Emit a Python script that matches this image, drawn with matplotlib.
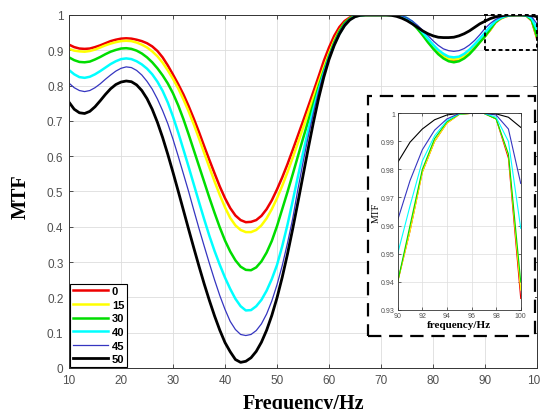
import numpy as np
import matplotlib.pyplot as plt
from matplotlib.patches import Rectangle
from matplotlib.ticker import FuncFormatter

# frequency axis, 1 Hz steps
freq = np.arange(10, 101)

mtf_0 = [
    .916, .909, .905, .904, .905, .909, .914, .920, .926, .930,
    .933, .934, .933, .930, .926, .920, .911, .898, .880, .857,
    .831, .804, .775, .742, .706, .668, .628, .589, .551, .514,
    .481, .453, .432, .419, .413, .414, .419, .431, .450, .475,
    .506, .540, .577, .617, .658, .699, .741, .783, .826, .870,
    .908, .941, .966, .983, .993, .998, 1.0, 1.0, 1.0, 1.0,
    1.0, 1.0, 1.0, 1.0, .997, .990, .979, .964, .946, .928,
    .911, .895, .883, .875, .873, .875, .882, .893, .907, .924,
    .940, .958, .979, .990, .9965, .9996, 1.0, 1.0, .998, .984,
    .934]
mtf_15 = [
    .904, .899, .897, .896, .898, .902, .908, .914, .919, .923,
    .926, .927, .926, .922, .916, .908, .897, .883, .865, .843,
    .819, .792, .761, .727, .690, .650, .609, .568, .528, .490,
    .455, .425, .404, .391, .385, .385, .391, .404, .424, .450,
    .481, .516, .554, .595, .637, .680, .723, .766, .809, .851,
    .891, .927, .956, .977, .990, .996, .999, 1.0, 1.0, 1.0,
    1.0, 1.0, 1.0, 1.0, .997, .990, .979, .964, .946, .927,
    .910, .894, .882, .875, .874, .876, .882, .893, .907, .924,
    .940, .958, .979, .990, .9965, .9996, 1.0, 1.0, .998, .985,
    .937]
mtf_30 = [
    .880, .872, .867, .866, .868, .874, .881, .889, .896, .901,
    .905, .906, .904, .899, .891, .880, .866, .849, .829, .806,
    .778, .744, .705, .662, .617, .572, .527, .482, .439, .398,
    .361, .330, .305, .287, .278, .277, .285, .302, .327, .360,
    .402, .450, .498, .548, .599, .650, .700, .749, .797, .842,
    .884, .922, .954, .977, .990, .997, .999, 1.0, 1.0, 1.0,
    1.0, 1.0, 1.0, 1.0, .997, .989, .977, .961, .943, .923,
    .905, .889, .877, .869, .866, .869, .877, .889, .905, .923,
    .940, .960, .980, .991, .997, .9997, 1.0, 1.0, .998, .9855,
    .940]
mtf_40 = [
    .844, .832, .824, .822, .825, .832, .841, .851, .861, .869,
    .875, .877, .875, .869, .860, .848, .832, .811, .785, .752,
    .712, .667, .619, .570, .520, .470, .421, .374, .331, .292,
    .256, .224, .196, .175, .163, .164, .175, .193, .219, .252,
    .292, .345, .405, .472, .541, .609, .673, .733, .787, .836,
    .879, .916, .947, .971, .987, .996, .999, 1.0, 1.0, 1.0,
    1.0, 1.0, 1.0, 1.0, .998, .991, .981, .967, .951, .933,
    .916, .901, .890, .882, .880, .882, .890, .902, .917, .933,
    .950, .967, .983, .992, .9974, .9998, 1.0, 1.0, .9986, .990,
    .959]
mtf_45 = [
    .807, .794, .786, .783, .786, .794, .805, .818, .830, .841,
    .849, .853, .851, .843, .830, .812, .790, .762, .729, .692,
    .648, .600, .550, .500, .447, .395, .345, .296, .249, .205,
    .166, .132, .109, .095, .092, .095, .106, .125, .153, .190,
    .236, .290, .353, .422, .505, .582, .655, .722, .783, .837,
    .883, .921, .952, .975, .989, .996, .999, 1.0, 1.0, 1.0,
    1.0, 1.0, 1.0, 1.0, .998, .992, .983, .971, .957, .942,
    .927, .914, .904, .899, .897, .899, .905, .915, .928, .944,
    .962, .976, .987, .994, .998, .99995, 1.0, 1.0, .9994, .9944,
    .975]
mtf_50 = [
    .753, .733, .723, .721, .727, .740, .757, .775, .791, .803,
    .810, .813, .811, .802, .786, .763, .733, .696, .653, .605,
    .554, .501, .447, .393, .340, .288, .238, .191, .147, .107,
    .072, .046, .024, .016, .019, .029, .047, .073, .107, .149,
    .199, .257, .322, .393, .468, .545, .622, .696, .764, .824,
    .874, .914, .946, .970, .986, .995, .999, 1.0, 1.0, 1.0,
    1.0, 1.0, .999, .996, .991, .984, .975, .965, .955, .947,
    .941, .937, .936, .936, .937, .941, .947, .955, .965, .975,
    .9825, .9897, .9944, .9977, .9994, 1.0, 1.0, 1.0, .9998, .9986,
    .995]

labels = ['0', '15', '30', '40', '45', '50']
series = [mtf_0, mtf_15, mtf_30, mtf_40, mtf_45, mtf_50]
colors = ['#ee0000', '#ffff00', '#00dd00', '#00ffff', '#3535c0', '#000000']
widths = [1.8, 1.8, 1.8, 1.8, 0.9, 2.0]

tick_font = 'Liberation Sans'
label_font = 'Liberation Serif'
tick_col = '#505050'

fig = plt.figure(figsize=(5.4, 4.1), dpi=100)
ax = fig.add_axes([0.1278, 0.1, 0.8667, 0.861])

for y, c, lw, lab in zip(series, colors, widths, labels):
    ax.plot(freq, y, color=c, lw=lw, label=lab)

ax.set_xlim(10, 100)
ax.set_ylim(0, 1)
ax.set_xticks(np.arange(10, 101, 10))
ax.set_yticks(np.arange(0, 1.01, 0.1))
ax.yaxis.set_major_formatter(FuncFormatter(lambda v, p: '%g' % round(v, 2)))
ax.grid(True, color='#dddddd', lw=0.6)
ax.set_axisbelow(True)
ax.tick_params(direction='in', length=3, width=0.6, top=True, right=True,
               labelsize=8.5, labelcolor=tick_col, color='#333333', pad=4)
for lbl in ax.get_xticklabels() + ax.get_yticklabels():
    lbl.set_fontfamily(tick_font)
for s in ax.spines.values():
    s.set_color('#333333')
    s.set_linewidth(0.7)

ax.set_xlabel('Frequency/Hz', fontfamily=label_font, fontweight='bold', fontsize=14.5)
ax.xaxis.set_label_coords(0.5, -0.072)
ax.set_ylabel('MTF', fontfamily=label_font, fontweight='bold', fontsize=14.5)
ax.yaxis.set_label_coords(-0.082, 0.487)

leg = ax.legend(loc='lower left', fontsize=8, handlelength=3.2, handletextpad=0.3,
                labelspacing=0.32, borderpad=0.25, borderaxespad=0.1,
                fancybox=False, framealpha=1, edgecolor='black',
                prop={'family': tick_font, 'weight': 'bold', 'size': 8})
leg.get_frame().set_linewidth(0.8)

# dotted box marking the zoomed region
ax.add_patch(Rectangle((90, 0.9), 10, 0.1, fill=False, ls=(0, (2, 1.5)),
                       lw=1.4, ec='black', clip_on=False, zorder=5))

# dashed frame around the inset
frame = Rectangle((0.6815, 0.1788), 0.3092, 0.5853, transform=fig.transFigure,
                  facecolor='white', edgecolor='black', lw=1.6,
                  ls=(0, (6, 3.5)), zorder=2)
fig.add_artist(frame)

ins = fig.add_axes([0.7365, 0.2422, 0.2278, 0.479])
ins.set_zorder(3)
for y, c in zip(series, colors):
    ins.plot(freq, y, color=c, lw=0.8)
ins.set_xlim(90, 100)
ins.set_ylim(0.93, 1)
ins.set_xticks(np.arange(90, 101, 2))
ins.set_yticks(np.arange(0.93, 1.001, 0.01))
ins.yaxis.set_major_formatter(FuncFormatter(lambda v, p: '%g' % round(v, 2)))
ins.grid(True, color='#dddddd', lw=0.5)
ins.tick_params(direction='in', length=2, width=0.5, top=True, right=True,
                labelsize=5, labelcolor=tick_col, color='#333333', pad=2)
for lbl in ins.get_xticklabels() + ins.get_yticklabels():
    lbl.set_fontfamily(tick_font)
for s in ins.spines.values():
    s.set_color('#333333')
    s.set_linewidth(0.6)
ins.set_xlabel('frequency/Hz', fontfamily=label_font, fontweight='bold', fontsize=8)
ins.xaxis.set_label_coords(0.5, -0.055)
ins.set_ylabel('MTF', fontfamily=label_font, fontsize=7)
ins.yaxis.set_label_coords(-0.14, 0.5)

fig.savefig('out.png', dpi=100)
